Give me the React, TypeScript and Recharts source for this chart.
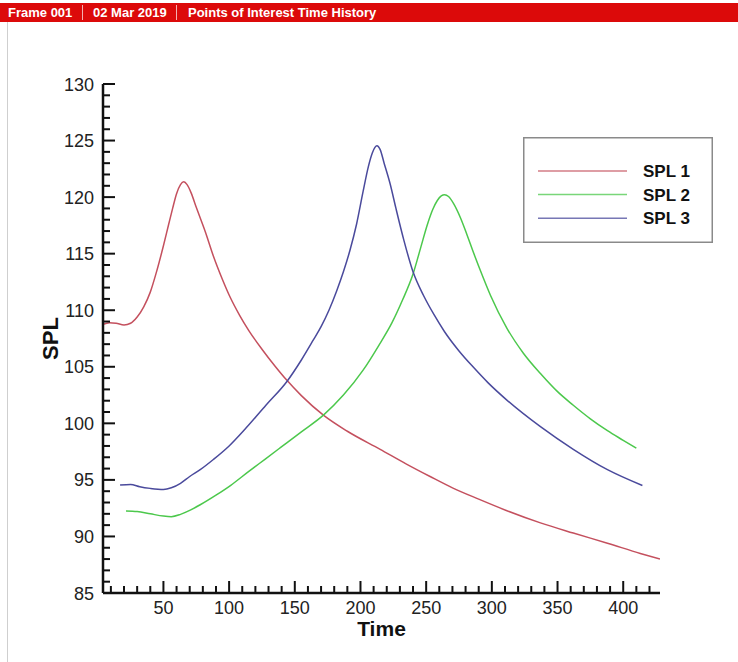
import React from 'react';
import { LineChart, Line, XAxis, YAxis, Legend } from 'recharts';

// time / SPL pairs
const spl1Time = [4, 9, 14, 20, 25, 30, 35, 40, 45, 50, 54, 57, 60, 63, 65.5, 68, 71, 75, 82, 88, 95, 101, 108, 115, 125, 135, 144, 155, 172, 190, 215, 235, 253, 270, 290, 311, 337, 362, 388, 413, 428];
const spl1Value = [108.75, 108.9, 108.85, 108.7, 108.85, 109.4, 110.3, 111.6, 113.5, 115.7, 117.6, 119.0, 120.3, 121.1, 121.35, 121.1, 120.4, 119.1, 116.9, 114.8, 112.7, 111.1, 109.55, 108.2, 106.55, 105.05, 103.8, 102.45, 100.7, 99.3, 97.7, 96.4, 95.3, 94.3, 93.3, 92.3, 91.2, 90.3, 89.4, 88.5, 88.0];

const spl2Time = [21.5, 30, 40, 50, 56, 63, 70, 78, 90, 101, 115, 127, 139, 155, 172, 187, 202, 214, 224, 232, 240, 246, 251, 255, 258.5, 261.5, 264, 267, 271, 276, 281, 286, 293, 299, 311.5, 324, 337, 350, 362, 375, 388, 400, 410];
const spl2Value = [92.25, 92.2, 92.0, 91.8, 91.75, 91.95, 92.3, 92.8, 93.65, 94.5, 95.75, 96.8, 97.85, 99.25, 100.75, 102.5, 104.7, 106.9, 108.9, 110.9, 113.2, 115.6, 117.6, 118.9, 119.7, 120.1, 120.2, 120.05, 119.4, 118.2, 116.7, 115.1, 113.0, 111.3, 108.4, 106.2, 104.4, 102.8, 101.6, 100.4, 99.35, 98.5, 97.8];

const spl3Time = [17, 25, 32, 40, 50, 56, 63, 70, 78, 88, 100, 113, 128, 144, 155, 164, 170, 176, 182, 187, 192, 197, 202, 206, 209, 211, 212.5, 215, 218, 222.5, 227, 233, 240, 248, 256, 264, 275, 286, 297, 311, 337, 362, 388, 414.6];
const spl3Value = [94.55, 94.6, 94.4, 94.25, 94.15, 94.3, 94.7, 95.3, 95.9, 96.8, 98.0, 99.6, 101.6, 103.7, 105.6, 107.35, 108.55, 110.0, 111.75, 113.4, 115.3, 117.6, 120.5, 122.7, 123.9, 124.4, 124.55, 124.2, 123.0, 121.2, 119.0, 116.2, 113.4, 111.3, 109.6, 108.1, 106.4, 104.95, 103.6, 102.1, 99.7, 97.7, 95.9, 94.5];

const timeLabels = [50, 100, 150, 200, 250, 300, 350, 400];
const splLabels = [85, 90, 95, 100, 105, 110, 115, 120, 125, 130];

const seriesNames = ['SPL 1', 'SPL 2', 'SPL 3'];
const seriesColors = ['#c4505e', '#4cc84c', '#4a4a9c'];

const FONT = '"Liberation Sans", Arial, sans-serif';

const toRows = (ts: number[], vs: number[]) => ts.map((t, i) => ({ t, v: vs[i] }));

// minor ticks every 10 on time, every 1 on SPL
const timeTicks: number[] = [];
for (let t = 10; t <= 420; t += 10) timeTicks.push(t);
const splTicks: number[] = [];
for (let v = 85; v <= 130; v += 1) splTicks.push(v);

function TimeTick(props: any) {
    const { x, y, payload } = props;
    const major = timeLabels.includes(payload.value);
    return (
        <g>
            <line x1={x} x2={x} y1={y} y2={y - (major ? 12 : 7)} stroke="#111" strokeWidth={2} />
            {major && (
                <text x={x} y={y + 21} textAnchor="middle" fontSize={18} fontFamily={FONT} fill="#222">
                    {payload.value}
                </text>
            )}
        </g>
    );
}

function SplTick(props: any) {
    const { x, y, payload } = props;
    const major = splLabels.includes(payload.value);
    return (
        <g>
            <line x1={x} x2={x + (major ? 12 : 7)} y1={y} y2={y} stroke="#111" strokeWidth={2} />
            {major && (
                <text x={x - 9} y={y + 6.5} textAnchor="end" fontSize={18} fontFamily={FONT} fill="#222">
                    {payload.value}
                </text>
            )}
        </g>
    );
}

function LegendBox(props: any) {
    const payload = props.payload || [];
    return (
        <svg width={190} height={106} style={{ display: 'block' }}>
            <rect x={0.75} y={0.75} width={188.5} height={104.5} fill="#fff" stroke="#8a8a8a" strokeWidth={1.5} />
            {payload.map((entry: any, i: number) => {
                const cy = 34 + i * 23.6;
                return (
                    <g key={`leg-${i}`}>
                        <line x1={15} x2={104} y1={cy} y2={cy} stroke={entry.color} strokeWidth={1.5} strokeOpacity={0.75} />
                        <text x={120} y={cy + 6} fontSize={17} fontWeight="bold" fontFamily={FONT} fill="#111">
                            {entry.value}
                        </text>
                    </g>
                );
            })}
        </svg>
    );
}

function Header() {
    const text: React.CSSProperties = { position: 'absolute', top: 2, whiteSpace: 'nowrap' };
    const sep: React.CSSProperties = { position: 'absolute', top: 2, width: 1, height: 15, background: '#f4b0b0' };
    return (
        <div style={{
            position: 'absolute', left: 0, top: 3, width: 738, height: 19, background: '#dc0a0a',
            color: '#fff', fontFamily: FONT, fontWeight: 'bold', fontSize: 13, zIndex: 2,
        }}>
            <span style={{ ...text, left: 8 }}>Frame 001</span>
            <div style={{ ...sep, left: 82 }} />
            <span style={{ ...text, left: 93 }}>02 Mar 2019</span>
            <div style={{ ...sep, left: 176 }} />
            <span style={{ ...text, left: 188 }}>Points of Interest Time History</span>
        </div>
    );
}

export default function App() {
    const series = [toRows(spl1Time, spl1Value), toRows(spl2Time, spl2Value), toRows(spl3Time, spl3Value)];
    return (
        <div style={{ position: 'absolute', left: 0, top: 0, width: 738, height: 662, background: '#fff', overflow: 'hidden' }}>
            <Header />
            <div style={{ position: 'absolute', left: 7, top: 22, width: 1, height: 640, background: '#cfcfcf' }} />
            <LineChart width={738} height={662} margin={{ top: 84, right: 78, left: 43, bottom: 24 }}>
                <XAxis
                    dataKey="t"
                    type="number"
                    domain={[4, 428]}
                    allowDataOverflow
                    ticks={timeTicks}
                    interval={0}
                    tickSize={0}
                    tickMargin={0}
                    tickLine={false}
                    tick={(p: any) => <TimeTick {...p} />}
                    axisLine={{ stroke: '#111', strokeWidth: 2.5 }}
                    height={45}
                    label={(p: any) => {
                        const vb = p.viewBox;
                        return (
                            <text x={vb.x + vb.width / 2} y={vb.y + 43} textAnchor="middle" fontSize={21}
                                fontWeight="bold" fontFamily={FONT} fill="#111">Time</text>
                        );
                    }}
                />
                <YAxis
                    type="number"
                    domain={[85, 130]}
                    allowDataOverflow
                    ticks={splTicks}
                    interval={0}
                    tickSize={0}
                    tickMargin={0}
                    tickLine={false}
                    tick={(p: any) => <SplTick {...p} />}
                    axisLine={{ stroke: '#111', strokeWidth: 2.5 }}
                    width={60}
                    label={(p: any) => {
                        const vb = p.viewBox;
                        const cx = vb.x + 15;
                        const cy = vb.y + vb.height / 2;
                        return (
                            <text x={cx} y={cy} transform={`rotate(-90 ${cx} ${cy})`} textAnchor="middle" fontSize={22}
                                fontWeight="bold" fontFamily={FONT} fill="#111">SPL</text>
                        );
                    }}
                />
                <Legend
                    layout="vertical"
                    align="center"
                    verticalAlign="middle"
                    content={(p: any) => <LegendBox {...p} />}
                    wrapperStyle={{ left: 523, top: 137, width: 190, height: 106 }}
                />
                {series.map((rows, i) => (
                    <Line
                        key={seriesNames[i]}
                        data={rows}
                        dataKey="v"
                        name={seriesNames[i]}
                        type="monotone"
                        stroke={seriesColors[i]}
                        strokeWidth={1.5}
                        dot={false}
                        activeDot={false}
                        isAnimationActive={false}
                    />
                ))}
            </LineChart>
        </div>
    );
}
